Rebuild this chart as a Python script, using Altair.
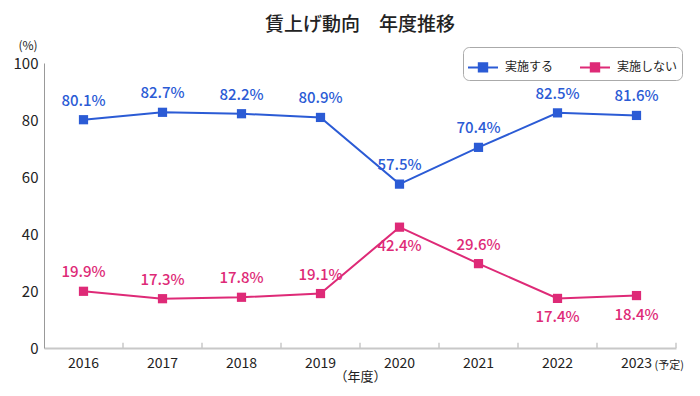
import altair as alt
import pandas as pd

years = ["2016", "2017", "2018", "2019", "2020", "2021", "2022", "2023"]
planned_note = "(予定)"
series_names = ["実施する", "実施しない"]
implemented = [80.1, 82.7, 82.2, 80.9, 57.5, 70.4, 82.5, 81.6]
not_implemented = [19.9, 17.3, 17.8, 19.1, 42.4, 29.6, 17.4, 18.4]
impl_label_pos = ["above"] * 8
not_label_pos = ["above", "above", "above", "above", "below", "above", "below", "below"]
y_ticks = [0, 20, 40, 60, 80, 100]

BLUE = "#2B5BD5"
PINK = "#DE2A77"
FONT = "Noto Sans CJK JP"

rows = []
for i, y in enumerate(years):
    rows.append({"year": y, "series": series_names[0], "value": implemented[i], "pos": impl_label_pos[i]})
    rows.append({"year": y, "series": series_names[1], "value": not_implemented[i], "pos": not_label_pos[i]})
df = pd.DataFrame(rows)
df["label"] = df["value"].map(lambda v: f"{v:.1f}%")

x_enc = alt.X("year:N", sort=years,
              scale=alt.Scale(paddingInner=0, paddingOuter=0),
              axis=alt.Axis(title="（年度）", labelAngle=0,
                            labelFont=FONT, labelFontSize=14, labelColor="#222",
                            labelPadding=8, ticks=False, domainColor="#c8c8c8",
                            domainWidth=2, titleFont=FONT, titleFontSize=13,
                            titleFontWeight="normal", titleColor="#222", titlePadding=0))
y_scale = alt.Scale(domain=[0, 100], nice=False)
cscale = alt.Scale(domain=series_names, range=[BLUE, PINK])
color = alt.Color("series:N", sort=series_names, scale=cscale,
                  legend=alt.Legend(title=None, orient="none", legendX=419, legendY=-16,
                                    direction="horizontal", strokeColor="#aaa",
                                    cornerRadius=6, padding=4, fillColor="white",
                                    labelFont=FONT, labelFontSize=12, labelColor="#222",
                                    symbolType="M-1,0H1M-0.28,-0.28H0.28V0.28H-0.28Z",
                                    symbolSize=900, symbolStrokeWidth=2,
                                    columnPadding=22, labelOffset=6))

base = alt.Chart(df)

line = base.mark_line(strokeWidth=2).encode(
    x=x_enc,
    y=alt.Y("value:Q", scale=y_scale,
            axis=alt.Axis(title=None, values=y_ticks, grid=False, ticks=False,
                          labelFont=FONT, labelFontSize=15, labelColor="#222",
                          labelPadding=6, domainColor="#999", domainWidth=1)),
    color=color,
)
nolegend = alt.Color("series:N", legend=None, scale=cscale)
points = base.mark_point(shape="square", filled=True, size=85, opacity=1).encode(
    x="year:N", y="value:Q", color=nolegend,
)
above = base.transform_filter("datum.pos == 'above'").mark_text(
    dy=-19, font=FONT, fontSize=15, fontWeight=500).encode(
    x="year:N", y="value:Q", text="label:N", color=nolegend,
)
below = base.transform_filter("datum.pos == 'below'").mark_text(
    dy=19, font=FONT, fontSize=15, fontWeight=500).encode(
    x="year:N", y="value:Q", text="label:N", color=nolegend,
)

ticks = alt.Chart(pd.DataFrame({"year": years[1:]})).mark_rule(color="#c8c8c8", strokeWidth=1.5).encode(
    x=alt.X("year:N", bandPosition=0), y=alt.datum(0), y2=alt.datum(1.8))
end_tick = alt.Chart(pd.DataFrame({"year": [years[-1]]})).mark_rule(color="#c8c8c8", strokeWidth=1.5).encode(
    x=alt.X("year:N", bandPosition=1), y=alt.datum(0), y2=alt.datum(1.8))

note = alt.Chart(pd.DataFrame({"year": [years[-1]], "t": [planned_note]})).mark_text(
    font=FONT, fontSize=11, color="#222", align="left", dx=18, dy=18).encode(
    x="year:N", y=alt.datum(0), text="t:N")

pct = alt.Chart(pd.DataFrame({"t": ["(%)"]})).mark_text(
    font=FONT, fontSize=12, color="#222", align="center").encode(
    text="t:N", x=alt.value(-16), y=alt.value(-17))

chart = alt.layer(line, ticks, end_tick, points, above, below, note, pct).properties(
    width=632, height=285,
    title=alt.Title("賃上げ動向　年度推移", font=FONT, fontSize=19, fontWeight=500,
                    color="#222", anchor="middle", offset=5),
    autosize=alt.AutoSizeParams(type="none"),
    padding={"left": 36, "top": 55, "right": 16, "bottom": 40},
).configure_view(stroke=None)

chart.save("out.html", embed_options={"renderer": "svg", "actions": False})
